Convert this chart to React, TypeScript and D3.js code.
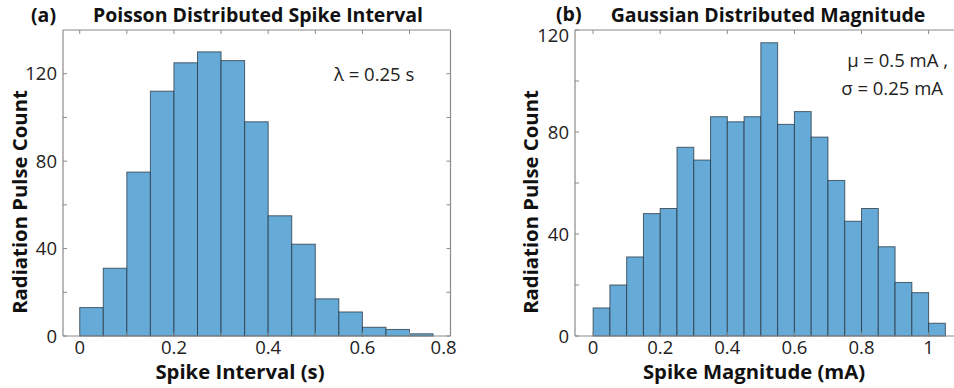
import React from "react";
import * as d3 from "d3";

// ---- data ----
const intervalBinStart = 0;
const intervalBinWidth = 0.05;
const intervalCounts = [13, 31, 75, 112, 125, 130, 126, 98, 55, 42, 17, 11, 4, 3, 1];

const magnitudeBinStart = 0;
const magnitudeBinWidth = 0.05;
const magnitudeCounts = [11, 20, 31, 48, 50, 74, 69, 86, 84, 86, 115, 83, 88, 78, 61, 45, 50, 35, 21, 17, 5];

const intervalXTickLabels = ["0", "0.2", "0.4", "0.6", "0.8"];
const intervalXTickValues = [0, 0.2, 0.4, 0.6, 0.8];
const intervalXMinorTicks = [0, 0.1, 0.2, 0.3, 0.4, 0.5, 0.6, 0.7];
const intervalYTicks = [0, 20, 40, 60, 80, 100, 120];
const intervalYLabels = [0, 40, 80, 120];

const magnitudeXTickLabels = ["0", "0.2", "0.4", "0.6", "0.8", "1"];
const magnitudeXTickValues = [0, 0.2, 0.4, 0.6, 0.8, 1];
const magnitudeYTicks = [0, 20, 40, 60, 80, 100, 120];
const magnitudeYLabels = [0, 40, 80, 120];

const FONT = "'Open Sans', Lato, sans-serif";
const AXIS = "#8a8a8a";
const FILL = "#66aad7";
const EDGE = "#26343f";
const TICK_FS = 18.5;
const TITLE_FS = 19.5;
const LABEL_FS = 20.3;
const NOTE_FS = 18.5;

type PanelProps = {
  counts: number[];
  binStart: number;
  binWidth: number;
  xDomain: [number, number];
  xRange: [number, number];
  yMax: number;
  xTickValues: number[];
  xTickLabels: string[];
  xTopTicks: number[];
  yTicks: number[];
  yLabels: number[];
  rightAxis: boolean;
  lastLabelEnd?: boolean;
  topLabelShift?: number;
};

function Panel(p: PanelProps) {
  const top = 30;
  const bottom = 336;
  const x = d3.scaleLinear().domain(p.xDomain).range(p.xRange);
  const y = d3.scaleLinear().domain([0, p.yMax]).range([bottom, top]);
  const [x0, x1] = p.xRange;
  const tl = 4;
  return (
    <g>
      {p.counts.map((c, i) => {
        const a = p.binStart + i * p.binWidth;
        const b = a + p.binWidth;
        return (
          <rect
            key={i}
            x={x(a)}
            y={y(c)}
            width={x(b) - x(a)}
            height={y(0) - y(c)}
            fill={FILL}
            stroke={EDGE}
            strokeOpacity={0.75}
            strokeWidth={1}
          />
        );
      })}
      {/* axes box */}
      <line x1={x0} x2={x1} y1={bottom} y2={bottom} stroke={AXIS} strokeWidth={1.2} />
      <line x1={x0} x2={x1} y1={top} y2={top} stroke={AXIS} strokeWidth={1.2} />
      <line x1={x0} x2={x0} y1={top} y2={bottom} stroke={AXIS} strokeWidth={1.2} />
      {p.rightAxis && <line x1={x1} x2={x1} y1={top} y2={bottom} stroke={AXIS} strokeWidth={1.2} />}
      {/* x ticks */}
      {p.xTopTicks.map((v, i) => (
        <g key={"xt" + i}>
          <line x1={x(v)} x2={x(v)} y1={top} y2={top + tl} stroke={AXIS} />
          <line x1={x(v)} x2={x(v)} y1={bottom} y2={bottom - tl} stroke={AXIS} />
        </g>
      ))}
      {p.xTickValues.map((v, i) => (
        <text
          key={"xl" + i}
          x={x(v)}
          y={354}
          fontFamily={FONT}
          fontSize={TICK_FS}
          fill="#222"
          textAnchor={p.lastLabelEnd && i === p.xTickValues.length - 1 ? "end" : "middle"}
        >
          {p.xTickLabels[i]}
        </text>
      ))}
      {/* y ticks */}
      {p.yTicks.map((v, i) => (
        <g key={"yt" + i}>
          <line x1={x0} x2={x0 + tl} y1={y(v)} y2={y(v)} stroke={AXIS} />
          {p.rightAxis && <line x1={x1} x2={x1 - tl} y1={y(v)} y2={y(v)} stroke={AXIS} />}
        </g>
      ))}
      {p.yLabels.map((v, i) => (
        <text
          key={"yl" + i}
          x={x0 - 6}
          y={y(v) + 6.5 + (i === p.yLabels.length - 1 ? p.topLabelShift || 0 : 0)}
          fontFamily={FONT}
          fontSize={TICK_FS}
          fill="#222"
          textAnchor="end"
        >
          {v}
        </text>
      ))}
    </g>
  );
}

export default function App() {
  return (
    <svg
      width={954}
      height={388}
      style={{ position: "absolute", left: 0, top: 0, background: "#fff" }}
    >
      <rect x={0} y={0} width={954} height={388} fill="#fff" />
      {/* Panel (a) */}
      <Panel
        counts={intervalCounts}
        binStart={intervalBinStart}
        binWidth={intervalBinWidth}
        xDomain={[-0.0355, 0.787]}
        xRange={[63, 450.5]}
        yMax={140}
        xTickValues={intervalXTickValues}
        xTickLabels={intervalXTickLabels}
        xTopTicks={intervalXMinorTicks}
        yTicks={intervalYTicks}
        yLabels={intervalYLabels}
        rightAxis={true}
        lastLabelEnd={true}
      />
      <text x={31} y={22} fontFamily={FONT} fontSize={TITLE_FS} fontWeight="bold" fill="#111">(a)</text>
      <text x={258} y={22} fontFamily={FONT} fontSize={TITLE_FS} fontWeight="bold" fill="#111" textAnchor="middle">
        Poisson Distributed Spike Interval
      </text>
      <text x={240} y={379} fontFamily={FONT} fontSize={LABEL_FS} fontWeight="bold" fill="#111" textAnchor="middle">
        Spike Interval (s)
      </text>
      <text
        transform="translate(27,202) rotate(-90)"
        fontFamily={FONT}
        fontSize={LABEL_FS}
        fontWeight="bold"
        fill="#111"
        textAnchor="middle"
      >
        Radiation Pulse Count
      </text>
      <text x={334} y={81} fontFamily={FONT} fontSize={NOTE_FS} fill="#222">λ = 0.25 s</text>

      {/* Panel (b) */}
      <Panel
        counts={magnitudeCounts}
        binStart={magnitudeBinStart}
        binWidth={magnitudeBinWidth}
        xDomain={[-0.054, 1.12]}
        xRange={[575, 575 + 1.174 * 335.5]}
        yMax={120}
        xTickValues={magnitudeXTickValues}
        xTickLabels={magnitudeXTickLabels}
        xTopTicks={magnitudeXTickValues}
        yTicks={magnitudeYTicks}
        yLabels={magnitudeYLabels}
        rightAxis={false}
        topLabelShift={5}
      />
      <text x={556} y={21} fontFamily={FONT} fontSize={TITLE_FS} fontWeight="bold" fill="#111">(b)</text>
      <text x={768} y={22} fontFamily={FONT} fontSize={TITLE_FS} fontWeight="bold" fill="#111" textAnchor="middle">
        Gaussian Distributed Magnitude
      </text>
      <text x={754} y={379} fontFamily={FONT} fontSize={LABEL_FS} fontWeight="bold" fill="#111" textAnchor="middle">
        Spike Magnitude (mA)
      </text>
      <text
        transform="translate(538,202) rotate(-90)"
        fontFamily={FONT}
        fontSize={LABEL_FS}
        fontWeight="bold"
        fill="#111"
        textAnchor="middle"
      >
        Radiation Pulse Count
      </text>
      <text x={948} y={67} fontFamily={FONT} fontSize={NOTE_FS} fill="#222" textAnchor="end">μ = 0.5 mA ,</text>
      <text x={943} y={95} fontFamily={FONT} fontSize={NOTE_FS} fill="#222" textAnchor="end">σ = 0.25 mA</text>
    </svg>
  );
}
